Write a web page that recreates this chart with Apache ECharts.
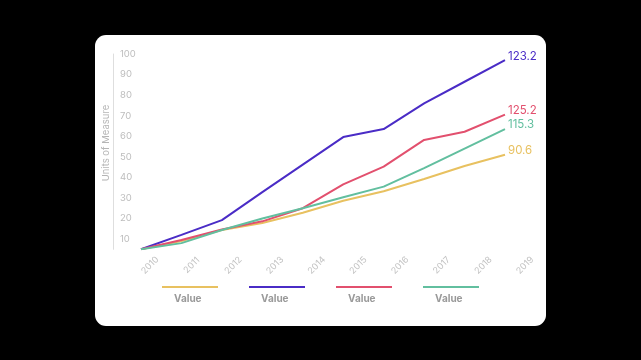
<!DOCTYPE html>
<html><head><meta charset="utf-8">
<script src="https://cdn.jsdelivr.net/npm/echarts@6/dist/echarts.min.js"></script>
<style>html,body{margin:0;padding:0;background:#000;}#c{width:641px;height:360px;}</style>
</head><body><div id="c"></div>
<script>
const years = ['2010','2011','2012','2013','2014','2015','2016','2017','2018','2019'];
const yellowVals = [5, 9, 14.4, 17.8, 22.8, 28.6, 33.2, 39.2, 45.5, 51];
const blueVals = [5, 12, 19.2, 32.8, 46.2, 59.6, 63.5, 76, 86.5, 97];
const redVals = [5, 9.5, 14.6, 18.6, 25, 36.6, 45.2, 58.2, 62.2, 70.5];
const greenVals = [5, 8, 14.4, 20, 25, 30.3, 35.5, 44.5, 54, 63.5];
const endTexts = ['90.6', '123.2', '125.2', '115.3'];
const legendText = 'Value';
const yName = 'Units of Measure';

const colors = ['#e8c160', '#4a2cc6', '#e2506e', '#62bf9f'];
const seriesData = [yellowVals, blueVals, redVals, greenVals];
const names = ['Yellow', 'Blue', 'Red', 'Green'];
const FONT = 'Inter, "Noto Sans", sans-serif';

const chart = echarts.init(document.getElementById('c'), null, {renderer: 'canvas'});
const legendLefts = [157, 244, 331, 418];

const option = {
  backgroundColor: '#000',
  animation: false,
  graphic: [
    {type: 'rect', shape: {x: 95, y: 35, width: 451, height: 291, r: 11}, style: {fill: '#fff'}, z: -10},
    {type: 'text', x: 106, y: 143, rotation: Math.PI / 2,
     style: {text: yName, fill: '#b5b5b5', font: '9.5px ' + FONT, align: 'center', verticalAlign: 'middle'}}
  ],
  grid: [
    {left: 141, right: 136, top: 54, bottom: 110.7},
    {left: 150, right: 116, top: 54, bottom: 110.7}
  ],
  xAxis: [
    {type: 'category', data: years, boundaryGap: false, gridIndex: 0,
     axisLine: {show: false}, axisTick: {show: false}, axisLabel: {show: false}, splitLine: {show: false}},
    {type: 'category', data: years, boundaryGap: false, gridIndex: 1,
     axisLine: {show: false}, axisTick: {show: false}, splitLine: {show: false},
     axisLabel: {rotate: 45, align: 'center', verticalAlign: 'middle', margin: 16,
       color: '#c2c2c2', fontSize: 9, fontFamily: FONT}}
  ],
  yAxis: [
    {type: 'value', gridIndex: 0, min: 5, max: 100, interval: 5, offset: 28,
     axisLine: {show: true, lineStyle: {color: '#dedede', width: 1}},
     axisTick: {show: false}, splitLine: {show: false},
     axisLabel: {inside: true, margin: 7, color: '#bdbdbd', fontSize: 9.5, fontFamily: FONT,
       formatter: v => (v % 10 === 0 ? String(v) : '')}},
    {type: 'value', gridIndex: 1, min: 0, max: 1, show: false}
  ],
  legend: names.map((n, i) => ({
    data: [n], left: legendLefts[i], top: 258, itemWidth: 56, itemHeight: 2, itemGap: 0,
    icon: 'rect', selectedMode: false, formatter: () => '\n' + legendText,
    textStyle: {color: '#9a9a9a', fontSize: 10, fontWeight: 'bold', fontFamily: FONT,
      lineHeight: 24, padding: [0, 0, 0, -49]}
  })),
  series: names.map((n, i) => ({
    name: n, type: 'line', data: seriesData[i], xAxisIndex: 0, yAxisIndex: 0,
    showSymbol: false, symbol: 'none',
    lineStyle: {color: colors[i], width: 2}, itemStyle: {color: colors[i]},
    endLabel: {show: true, formatter: () => endTexts[i], color: colors[i], fontSize: 11.5,
      fontFamily: FONT, distance: 3, offset: [0, -4]}
  }))
};
chart.setOption(option);
</script></body></html>
